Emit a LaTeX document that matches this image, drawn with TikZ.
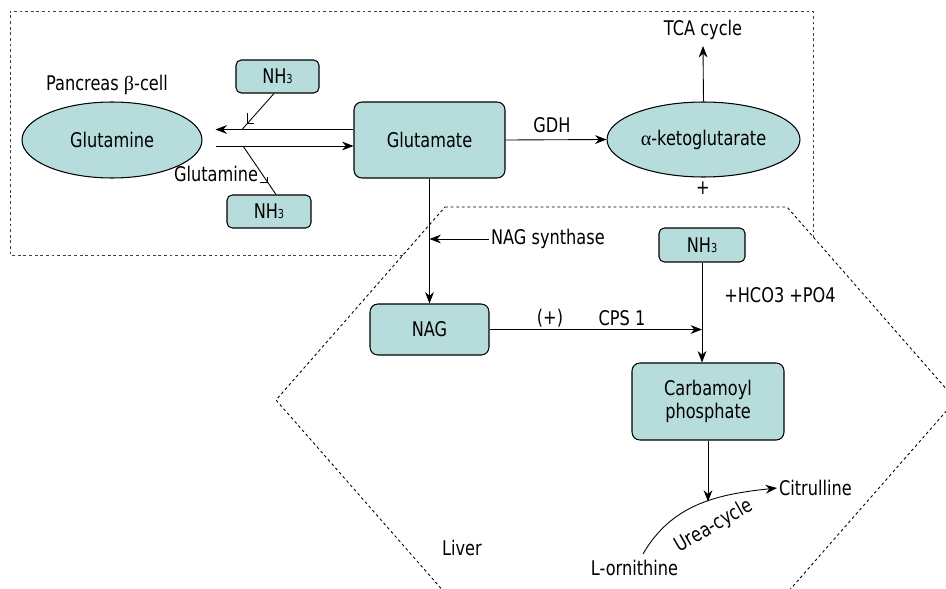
\documentclass[tikz,border=0pt]{standalone}
\usepackage{fontspec}
\setmainfont{DejaVu Sans}[FakeStretch=0.8]
\newfontfamily\grk{Liberation Serif}
\usepackage{xcolor}
\usetikzlibrary{shapes.geometric, arrows.meta}
\definecolor{cellfill}{RGB}{183,220,220}

\begin{document}
\begin{tikzpicture}[x=0.02cm, y=-0.02cm, font=\fontsize{11.5}{13.5}\selectfont,
        box/.style={rectangle, draw, fill=cellfill, rounded corners=4.5pt,
        line width=0.6pt, inner sep=1pt},
        blob/.style={ellipse, draw, fill=cellfill, line width=0.6pt, inner sep=1pt},
        arr/.style={-{Stealth[length=6.5pt, width=5pt]}, line width=0.5pt},
        zone/.style={dash pattern=on 1.6pt off 1.6pt, line width=0.5pt}]
        \useasboundingbox (0,0) rectangle (946,588);

        \node[blob, minimum width=3.6cm, minimum height=1.52cm] (glutamine) at (112,140) {Glutamine};
        \node[box, minimum width=3.02cm, minimum height=1.52cm] (glutamate) at (429.5,140) {Glutamate};
        \node[blob, minimum width=3.86cm, minimum height=1.5cm] (akg) at (703.5,139.5) {{\grk α}-ketoglutarate};
        \node[box, rounded corners=3pt, minimum width=1.66cm, minimum height=0.66cm] (nh3a) at (277.5,76.5) {NH{\scriptsize 3}};
        \node[box, rounded corners=3pt, minimum width=1.68cm, minimum height=0.66cm] (nh3b) at (269,211.5) {NH{\scriptsize 3}};
        \node[box, rounded corners=3pt, minimum width=1.72cm, minimum height=0.68cm] (nh3c) at (702,245) {NH{\scriptsize 3}};
        \node[box, minimum width=2.38cm, minimum height=1.02cm] (nag) at (429.5,329.5) {NAG};
        \node[box, align=center, minimum width=3.04cm, minimum height=1.54cm] (carb) at (708,401.5) {Carbamoyl\\phosphate};

        \node (pancreas) at (107,85) {Pancreas {\grk β}-cell};
        \node (glnlabel) at (216,174) {Glutamine};
        \node (tca) at (703,30) {TCA cycle};
        \node (gdh) at (552,125) {GDH};
        \node (plus) at (703,188) {+};
        \node[anchor=west, inner sep=1pt] (nags) at (489,239) {NAG synthase};
        \node (cplus) at (550,318) {(+)};
        \node (cps) at (622,318) {CPS 1};
        \node (hco) at (780,295) {+HCO3 +PO4};
        \node[anchor=west, inner sep=1pt] (citr) at (777,488) {Citrulline};
        \node (lorn) at (634.5,568) {L-ornithine};
        \node (liver) at (462,548) {Liver};
        \node[rotate=30, inner sep=0pt] (urea) at (714,526) {Urea-cycle};

        \coordinate (j1) at (242,129.5);
        \coordinate (j2) at (243,146);

        \draw[arr, shorten >=0.26cm] ([yshift=0.21cm]glutamate.west) -- ([yshift=0.21cm]glutamine.east);
        \draw[arr, shorten <=0.26cm] ([yshift=-0.12cm]glutamine.east) -- ([yshift=-0.12cm]glutamate.west);
        \draw[line width=0.5pt] ([xshift=-0.07cm]nh3a.south) -- coordinate[pos=0.83] (ta) (j1);
        \draw[line width=0.5pt] (ta) ++(0,-10) -- (ta) -- ++(7,0);
        \draw[line width=0.5pt] (j2) -- coordinate[pos=0.755] (tb) ([xshift=0.14cm]nh3b.north);
        \draw[line width=0.5pt] (tb) ++(0,-6) -- (tb) -- ++(-8,0);

        \draw[arr] (glutamate.east) -- (akg.west);
        \draw[arr] (akg.north) -- (tca.south);
        \draw[arr] (glutamate.south) -- (nag.north);
        \draw[arr] (nags.west) -- (glutamate.south |- nags.west);
        \draw[arr] (nag.east) -- (nh3c.south |- nag.east);
        \draw[arr] (nh3c.south) -- (nh3c.south |- carb.north);
        \draw[arr] ([xshift=0.17cm]lorn.north) to[out=60, in=186]
            coordinate[pos=0.55] (uc) (citr.west);
        \draw[arr] (carb.south) -- (carb.south |- uc);

        \begin{scope}
            \clip (0,0) rectangle (946,588);
            \draw[zone] (445,207) -- (787,207) -- (956,400) -- (787,593) -- (445,593) -- (276,400) -- cycle;
        \end{scope}
        \draw[zone, black!75] (403,255) -- (10,255) -- (10,11) -- (813,11) -- (813,238);
    \end{tikzpicture}
\end{document}
